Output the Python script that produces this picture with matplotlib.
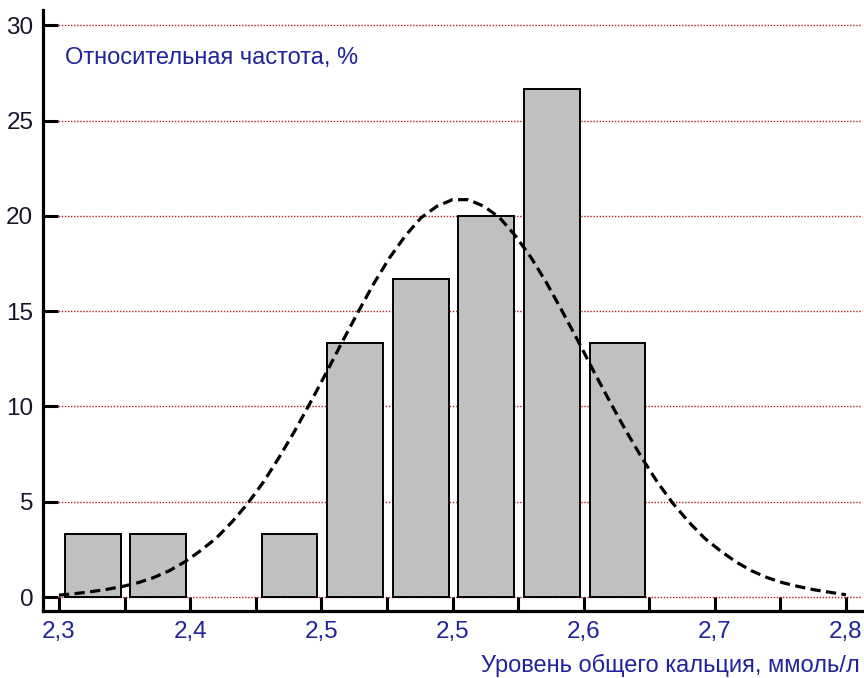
import numpy as np
import matplotlib
matplotlib.use("Agg")
import matplotlib.pyplot as plt
from matplotlib.ticker import FixedLocator, NullFormatter

plt.rcParams['font.family'] = ['Liberation Sans', 'DejaVu Sans']

# относительная частота по интервалам (%), 12 интервалов от 2,3 до 2,8
freq = [3.33, 3.33, 0, 3.33, 13.33, 16.67, 20.0, 26.67, 13.33, 0, 0, 0]
x_start, x_end = 2.3, 2.8

# нормальная кривая (значения сняты через 0,01)
curve_x = [2.30, 2.31, 2.32, 2.33, 2.34, 2.35, 2.36, 2.37, 2.38, 2.39,
           2.40, 2.41, 2.42, 2.43, 2.44, 2.45, 2.46, 2.47, 2.48, 2.49,
           2.50, 2.51, 2.52, 2.53, 2.54, 2.55, 2.56, 2.57, 2.58, 2.59,
           2.60, 2.61, 2.62, 2.63, 2.64, 2.65, 2.66, 2.67, 2.68, 2.69,
           2.70, 2.71, 2.72, 2.73, 2.74, 2.75, 2.76, 2.77, 2.78, 2.79, 2.80]
curve_y = [0.10, 0.18, 0.28, 0.40, 0.55, 0.75, 1.02, 1.38, 1.85, 2.44,
           3.10, 3.95, 4.92, 6.05, 7.35, 8.75, 10.25, 11.80, 13.40, 14.95,
           16.45, 17.80, 18.95, 19.90, 20.50, 20.85, 20.85, 20.50, 19.90, 18.95,
           17.80, 16.45, 14.95, 13.40, 11.80, 10.25, 8.75, 7.35, 6.05, 4.92,
           3.95, 3.10, 2.44, 1.85, 1.38, 1.02, 0.75, 0.55, 0.38, 0.25, 0.12]

xtick_labels = ['2,3', '2,4', '2,5', '2,5', '2,6', '2,7', '2,8']
yticks = [0, 5, 10, 15, 20, 25, 30]

navy = '#22229a'

fig = plt.figure(figsize=(8.64, 6.78), dpi=100)
ax = fig.add_axes([43 / 864, 1 - 611 / 678, (862 - 43) / 864, (611 - 10) / 678])

n = len(freq)
edges = np.linspace(x_start, x_end, n + 1)
bw = edges[1] - edges[0]

# столбцы гистограммы (пустые интервалы не рисуем)
f = np.array(freq)
nz = f > 0
ax.bar(edges[:-1][nz] + bw * 0.09, f[nz], width=bw * 0.85, align='edge',
       color='#c0c0c0', edgecolor='black', linewidth=1.4, zorder=2)

# нормальная кривая
ax.plot(curve_x, curve_y, color='black', lw=2.3,
        linestyle=(0, (3.2, 1.7)), zorder=3)

# пунктирная сетка
for y in yticks:
    ax.axhline(y, color='#b02020', lw=1.0, linestyle=(0, (1, 1.2)), zorder=1)

ax.set_xlim(x_start - 16 / 1574, x_end + 16 / 1574)
ax.set_ylim(-0.73, 30.8)

for s in ['top', 'right']:
    ax.spines[s].set_visible(False)
for s in ['left', 'bottom']:
    ax.spines[s].set_linewidth(2.3)

ax.xaxis.set_major_locator(FixedLocator(edges[::2]))
ax.xaxis.set_minor_locator(FixedLocator(edges[1::2]))
ax.set_xticklabels(xtick_labels)
ax.xaxis.set_minor_formatter(NullFormatter())
ax.set_yticks(yticks)
ax.set_yticklabels([str(v) for v in yticks])

ax.tick_params(axis='x', which='both', direction='in', length=10, width=2.2,
               labelsize=17.5, labelcolor=navy, pad=7)
ax.tick_params(axis='y', direction='in', length=11, width=2.2,
               labelsize=17.5, labelcolor='#15152a', pad=7)

ax.text(x_start + 6 / 1574, 28.3, 'Относительная частота, %', color=navy,
        fontsize=17, ha='left', va='center')
fig.text(860 / 864, 1 - 665 / 678, 'Уровень общего кальция, ммоль/л',
         color=navy, fontsize=17, ha='right', va='center')

fig.savefig('out.png', dpi=100)
